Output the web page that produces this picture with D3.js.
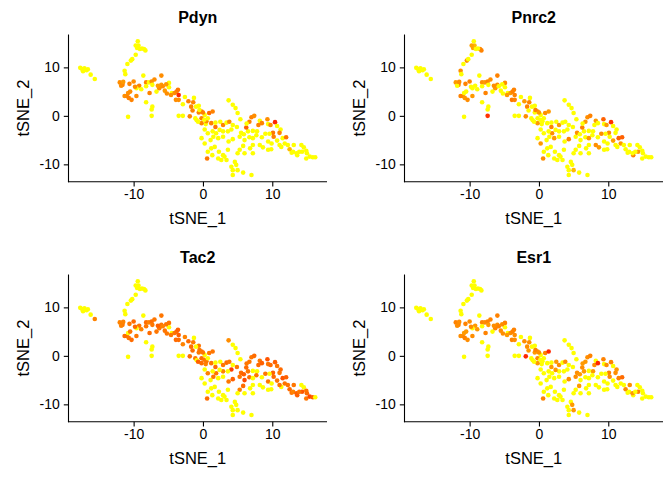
<!DOCTYPE html>
<html>
<head>
<meta charset="utf-8">
<script src="https://cdn.jsdelivr.net/npm/d3@7/dist/d3.min.js"></script>
<style>
  body { margin: 0; background: #fff; }
  svg { display: block; font-family: "Liberation Sans", Arial, sans-serif; }
</style>
</head>
<body>
<svg id="chart" width="672" height="480"></svg>
<script>
'use strict';

// tSNE coordinates of each cell (same for all four panels)
var tsne1 = [
  -17.7,-17.4,-17.1,-16.8,-17.3,-16.6,-16.2,-15.6,-11.3,-11.2,
  -10.9,-10.4,-10.2,-9.7,-9.5,-9.3,-9.4,-9.1,-8.5,-8.3,
  -9.7,-8.8,-12.0,-11.6,-11.8,-10.6,-10.0,-9.2,-9.6,-8.9,
  -8.2,-8.2,-7.8,-7.4,-7.0,-7.3,-7.7,-6.7,-6.3,-6.0,
  -5.8,-5.5,-4.9,-4.9,-4.5,-4.1,-3.8,-3.6,-3.5,-3.9,
  -3.5,-2.6,-2.1,-1.7,-1.3,-0.6,-0.2,-0.6,0.25,-1.5,
  -1.1,-0.9,0.4,-0.2,0.5,0.9,-11.0,-11.3,-10.8,-10.7,
  -10.3,-10.5,-9.6,-8.2,-7.3,-7.4,-7.4,-10.8,-3.5,-2.9,
  -1.9,-8.6,-6.0,-5.3,-11.5,-9.8,-6.5,-5.2,-4.6,-2.9,
  -1.4,-1.0,-0.5,0.0,1.4,-0.7,-0.2,0.2,0.7,1.2,
  1.8,1.8,2.5,2.9,3.4,3.8,3.7,4.3,4.7,5.0,
  5.4,4.9,4.3,4.1,3.6,2.9,2.4,1.9,1.4,0.7,
  0.25,-0.2,0.25,1.1,1.5,2.2,2.9,3.7,4.3,5.3,
  5.5,6.0,6.5,6.7,1.2,0.7,0.6,1.35,1.7,2.3,
  2.9,2.2,2.65,3.1,3.6,3.4,4.6,4.1,4.3,4.8,
  5.0,4.3,5.8,7.0,5.3,6.0,5.8,6.8,7.2,7.0,
  7.4,8.2,8.0,8.5,9.3,9.4,9.75,10.4,10.7,11.2,
  11.05,10.1,10.2,9.6,9.0,7.8,7.7,8.5,9.4,9.9,
  10.7,11.5,12.0,11.8,11.3,8.65,9.85,12.25,12.5,12.8,
  13.1,13.6,14.2,14.55,14.3,14.9,15.0,14.9,15.4,15.85,
  16.2,13.0,13.5,13.9,9.4,11.05,6.7,6.25,5.9,7.2,
  7.2,8.2,7.2,5.0,6.3
];
var tsne2 = [
  9.9,9.6,9.8,9.4,9.2,9.6,8.5,7.6,9.3,8.6,
  10.7,11.4,11.7,12.6,14.0,14.5,15.4,13.8,13.8,13.5,
  14.5,13.9,6.9,6.4,6.2,6.6,7.1,6.2,5.7,5.5,
  6.9,6.1,6.9,7.1,7.5,6.4,4.7,5.0,5.7,6.4,
  6.1,5.2,6.8,5.9,4.7,4.7,5.0,5.4,4.3,3.3,
  3.3,3.9,3.0,1.9,3.7,2.1,0.9,0.7,0.2,1.1,
  -0.5,-0.9,-1.7,-1.5,-1.1,0.6,4.1,4.1,4.7,3.7,
  3.3,5.0,4.1,2.8,1.9,1.3,0.0,-0.2,0.0,0.0,
  -0.1,8.3,8.3,6.5,7.0,6.0,6.2,4.6,4.3,2.4,
  2.8,1.9,1.2,0.7,0.9,-1.2,-0.5,-0.8,-0.5,-1.5,
  -2.3,-1.4,-1.2,-1.9,-1.4,-1.2,3.2,2.3,1.6,0.6,
  -0.7,-2.3,-1.9,-2.8,-3.2,-3.2,-2.9,-3.6,-3.2,-3.6,
  -2.8,-4.6,-5.7,-5.0,-4.3,-4.6,-4.3,-5.3,-4.8,-4.3,
  -3.5,-5.0,-3.2,-4.4,-6.7,-7.4,-8.8,-8.1,-6.4,-7.4,
  -8.1,-8.8,-9.1,-8.4,-7.0,-9.1,-9.5,-10.5,-11.2,-10.1,
  -11.2,-12.2,-11.7,-12.2,-7.0,-7.7,-6.2,-6.7,-7.7,-0.3,
  0.0,-1.0,-1.9,-1.5,-0.7,-1.7,-1.9,-1.3,-2.1,-2.8,
  -3.5,-3.5,-4.3,-3.7,-3.7,-3.2,-4.0,-4.4,-5.3,-5.7,
  -5.1,-4.6,-4.4,-5.7,-6.4,-6.5,-6.9,-6.0,-6.9,-7.6,
  -6.0,-8.1,-6.0,-6.5,-7.4,-7.2,-7.7,-8.8,-8.4,-8.55,
  -8.55,-7.4,-7.7,-7.4,-7.0,-6.0,-1.2,-2.4,-3.8,-3.1,
  -4.6,-6.0,-6.0,-7.7,-1.6
];

// scaled expression per gene, 0 = yellow, 1 = red
var pdyn = [
  0,0,0,0,0,0,0,0,0,0,
  0,0,0,0,0,0,0,0,0,0,
  0,0,.5,.55,.5,.55,.5,.55,0,0,
  .55,0,0,.5,.5,0,.55,0,.5,.45,
  .5,.45,0,0,0,.5,.55,.6,.95,.5,
  .5,0,.55,.55,0,0,.6,.55,0,.55,
  0,0,0,.55,.5,.65,.55,.5,.5,.55,
  .55,.5,.5,0,0,0,0,0,0,0,
  .55,0,.5,.45,.45,.5,.45,.5,.5,0,
  .55,0,0,.55,.55,0,.55,0,0,.55,
  .6,0,0,.55,0,.5,0,0,0,0,
  0,0,0,0,0,0,0,0,0,0,
  0,0,0,0,0,0,0,0,0,0,
  0,0,0,0,0,0,.6,0,0,0,
  0,0,0,0,0,0,0,0,0,0,
  0,0,0,0,0,0,0,0,0,.55,
  .5,0,.55,.55,.5,0,.5,.95,0,0,
  .55,.6,.55,0,0,0,0,0,0,0,
  0,0,.6,0,0,0,0,0,.3,0,
  0,0,0,0,0,0,0,0,0,0,
  0,0,0,0,0,0,.55,.7,0,0,
  0,0,0,0,0
];
var pnrc2 = [
  0,0,0,0,0,0,0,0,.5,0,
  0,.5,0,0,.4,.3,0,0,.5,.55,
  .4,0,.45,.55,0,.55,.55,0,0,0,
  .5,0,.45,.55,.5,0,.55,0,.45,.5,
  0,0,.5,0,0,.45,.55,.55,.55,.6,
  .55,0,.45,.55,0,0,.55,0,0,0,
  0,0,0,.45,0,.5,.5,.55,0,.45,
  .5,0,.45,0,0,0,.9,0,0,0,
  .5,0,.55,0,.5,0,.5,0,.45,0,
  .55,0,.55,.45,.45,0,0,0,0,0,
  .55,0,0,.45,0,0,0,0,0,0,
  0,0,0,0,0,0,0,.5,0,0,
  0,0,.45,0,0,.45,0,0,.55,0,
  .5,0,0,0,0,0,.5,0,0,0,
  0,0,0,0,0,0,0,0,0,0,
  .3,0,0,0,0,0,0,0,0,.5,
  .55,.45,0,0,.7,0,.45,.9,0,0,
  0,.5,0,0,.5,0,0,0,0,0,
  .45,.7,.7,.45,0,.45,0,0,0,0,
  0,.55,0,0,.45,0,0,0,0,0,
  0,0,0,0,0,0,.45,.55,0,0,
  .45,.5,0,0,0
];
var tac2 = [
  0,0,0,0,0,0,0,.55,0,0,
  0,0,0,0,0,0,0,0,0,0,
  0,0,.55,.6,.55,.6,.65,.6,0,.55,
  .65,.6,.55,.65,.6,.6,.65,.6,.6,.6,
  .55,.6,.6,0,0,.6,.65,.7,.7,.65,
  .65,.55,.65,.65,0,.6,.65,.6,0,.65,
  .6,0,.55,.65,.6,.6,.6,.65,0,.6,
  .65,.6,.6,0,0,0,0,0,0,0,
  .65,0,.6,.6,.55,.65,.7,.6,.6,.55,
  .6,0,.6,.6,.6,.7,.65,.6,0,.6,
  .65,0,0,.6,.65,.6,.5,0,0,0,
  0,.6,0,.85,0,.55,0,.6,0,.55,
  0,0,0,0,.6,0,0,.6,.7,.6,
  .65,.8,.6,.65,0,0,.65,0,0,0,
  0,0,0,0,0,0,0,0,0,0,
  0,0,0,0,.55,0,.65,0,0,.6,
  .65,.6,.65,.7,.75,.6,.65,.7,.6,.65,
  .6,.7,.65,0,.6,0,.6,0,.6,0,
  .6,.75,.7,.6,0,0,0,.6,.65,.6,
  .6,.7,0,0,.75,.6,.65,.6,.8,.7,
  0,.55,.7,.6,0,.6,.6,.65,.7,0,
  0,0,0,0,.6
];
var esr1 = [
  0,0,0,0,0,0,0,0,0,0,
  0,0,0,0,0,0,0,0,0,0,
  0,0,.55,.55,.5,.55,.5,.45,0,.45,
  .55,0,.5,.55,.55,.45,.55,0,.55,.5,
  .55,.5,.55,0,0,.5,.55,.55,.5,.55,
  .5,0,.5,.5,0,0,.5,.45,0,.45,
  0,0,0,.45,0,.55,.55,.5,.45,.55,
  .5,.45,.5,0,0,0,0,0,0,0,
  .95,0,.55,.5,.5,.5,.5,.5,.45,0,
  .5,0,.55,.5,.95,0,.5,0,0,0,
  .45,0,.45,.5,0,.5,0,0,0,0,
  0,0,0,0,0,0,.45,0,0,0,
  0,0,0,0,0,0,0,0,.5,.5,
  .5,0,.45,0,0,0,.55,0,0,0,
  0,0,0,0,0,0,0,0,0,.45,
  .45,0,0,0,0,0,.45,0,0,.5,
  .55,0,.5,.95,.55,0,.5,.55,0,.45,
  .5,.55,.5,0,0,.45,0,0,0,0,
  0,.55,.65,0,0,0,0,0,.5,0,
  .5,0,0,0,.55,0,0,0,0,0,
  0,0,.45,0,0,0,.45,.5,.45,0,
  0,0,0,0,.45
];

var geneNames = ['Pdyn', 'Pnrc2', 'Tac2', 'Esr1'];
var geneValues = [pdyn, pnrc2, tac2, esr1];
var xTicks = [-10, 0, 10];
var yTicks = [-10, 0, 10];

(function(d3) {

  var svg = d3.select('#chart'),
      panelW = 336,
      panelH = 240,
      m = { left: 68.5, right: 9, top: 34.5, bottom: 58.3 },
      w = panelW - m.left - m.right,
      h = panelH - m.top - m.bottom;

  // ggplot-style 5% expansion around the data range
  function expand(ext) {
    var pad = (ext[1] - ext[0]) * 0.05;
    return [ext[0] - pad, ext[1] + pad];
  }

  // plain hyphen for negatives, like R does
  function fmt(d) { return String(d); }

  var x = d3.scaleLinear().domain(expand(d3.extent(tsne1))).range([0, w]),
      y = d3.scaleLinear().domain(expand(d3.extent(tsne2))).range([h, 0]),
      color = d3.scaleLinear().domain([0, 1.12]).range(['#ffff00', '#ff0000']).clamp(true);

  geneNames.forEach(function(name, gi) {

    var vals = geneValues[gi],
        panel = svg.append('g')
          .attr('transform', 'translate(' + ((gi % 2) * panelW) + ',' + (Math.floor(gi / 2) * panelH) + ')'),
        plot = panel.append('g').attr('transform', 'translate(' + m.left + ',' + m.top + ')');

    // points
    plot.append('g').selectAll('circle')
      .data(d3.range(tsne1.length))
      .join('circle')
        .attr('cx', function(i) { return x(tsne1[i]); })
        .attr('cy', function(i) { return y(tsne2[i]); })
        .attr('r', 2.3)
        .attr('fill', function(i) { return color(vals[i]); });

    // axes
    var xAxis = plot.append('g')
      .attr('transform', 'translate(0,' + h + ')')
      .call(d3.axisBottom(x).tickValues(xTicks).tickSize(4.7).tickSizeOuter(0).tickPadding(3)
        .tickFormat(fmt));
    var yAxis = plot.append('g')
      .call(d3.axisLeft(y).tickValues(yTicks).tickSize(4.7).tickSizeOuter(0).tickPadding(4)
        .tickFormat(fmt));

    [xAxis, yAxis].forEach(function(a) {
      a.select('.domain').attr('stroke', '#000').attr('stroke-width', 1.1);
      a.selectAll('.tick line').attr('stroke', '#000').attr('stroke-width', 1.1);
      a.selectAll('.tick text').attr('fill', '#000').style('font-size', '14px')
        .style('font-family', '"Liberation Sans", Arial, sans-serif');
    });
    // axis lines meet at the corner
    xAxis.select('.domain').attr('d', 'M-0.55,0H' + w);
    yAxis.select('.domain').attr('d', 'M0,0V' + (h + 0.55));

    // titles
    panel.append('text')
      .attr('x', m.left + w / 2)
      .attr('y', 23)
      .attr('text-anchor', 'middle')
      .style('font-size', '16px')
      .style('font-weight', 'bold')
      .text(name);

    panel.append('text')
      .attr('x', m.left + w / 2)
      .attr('y', 224)
      .attr('text-anchor', 'middle')
      .style('font-size', '16.5px')
      .text('tSNE_1');

    panel.append('text')
      .attr('transform', 'translate(29,' + (m.top + h / 2) + ') rotate(-90)')
      .attr('text-anchor', 'middle')
      .style('font-size', '16.5px')
      .text('tSNE_2');
  });

})(window.d3);
</script>
</body>
</html>
